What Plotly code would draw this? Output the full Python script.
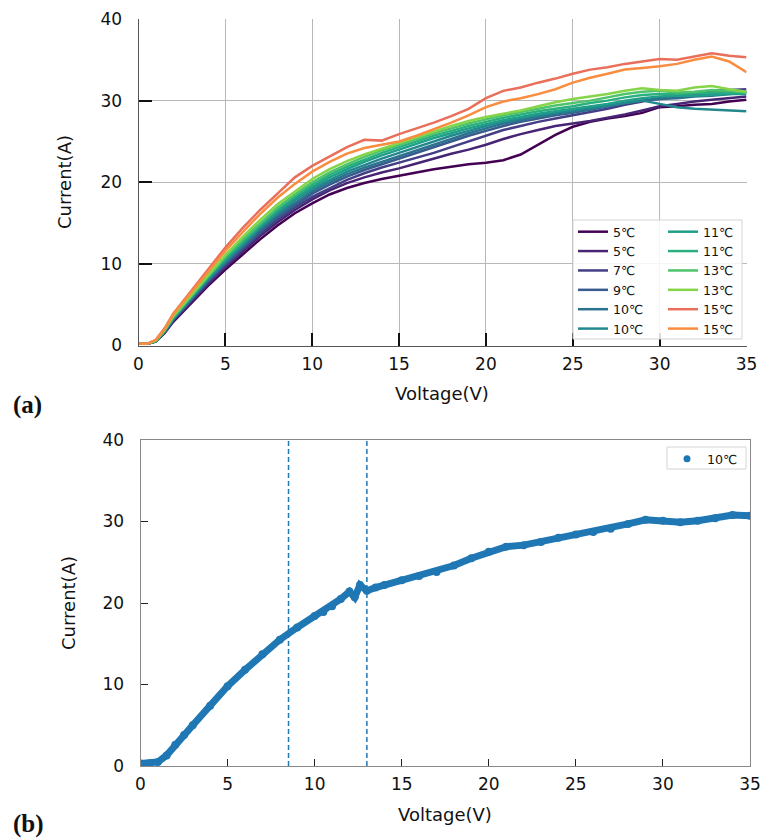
import plotly.graph_objects as go

W, H = 760, 839

# ---------------- data: panel (a) ----------------
voltage_a = [0, 0.5, 1, 1.5, 2, 3, 4, 5, 6, 7, 8, 9, 10, 11, 12, 13, 14, 15, 16, 17, 18,
             19, 20, 21, 22, 23, 24, 25, 26, 27, 28, 29, 30, 31, 32, 33, 34, 35]

labels_a = ["5℃", "5℃", "7℃", "9℃", "10℃", "10℃",
            "11℃", "11℃", "13℃", "13℃", "15℃", "15℃"]

colors_a = ["#440154", "#482475", "#433e85", "#375b8d", "#2c718e", "#23888e",
            "#1f9e89", "#2ab07f", "#4ec36b", "#86d549", "#ea6f5a", "#f98c3f"]

current_5a = [0.2, 0.2, 0.5, 1.5, 2.9, 5.1, 7.3, 9.3, 11.2, 13.0, 14.7, 16.2, 17.4, 18.5, 19.3, 19.9,
              20.4, 20.8, 21.2, 21.6, 21.9, 22.2, 22.4, 22.7, 23.4, 24.6, 25.8, 26.8, 27.4, 27.8,
              28.1, 28.5, 29.2, 29.3, 29.5, 29.6, 29.9, 30.1]
current_5b = [0.2, 0.2, 0.5, 1.6, 3.0, 5.3, 7.5, 9.6, 11.5, 13.4, 15.1, 16.6, 17.9, 19.0, 19.9, 20.6,
              21.2, 21.7, 22.3, 22.9, 23.5, 24.0, 24.6, 25.3, 25.9, 26.4, 26.9, 27.2, 27.5, 27.9,
              28.3, 28.8, 29.3, 29.6, 29.9, 30.1, 30.3, 30.5]
current_7 = [0.2, 0.2, 0.5, 1.6, 3.1, 5.4, 7.7, 9.8, 11.8, 13.7, 15.4, 16.9, 18.2, 19.3, 20.3, 21.1,
             21.8, 22.4, 23.0, 23.6, 24.3, 25.0, 25.7, 26.4, 26.9, 27.4, 27.8, 28.2, 28.6, 29.0,
             29.5, 29.9, 30.4, 30.7, 31.0, 31.2, 31.3, 31.4]
current_9 = [0.2, 0.2, 0.5, 1.7, 3.2, 5.5, 7.9, 10.0, 12.0, 13.9, 15.7, 17.2, 18.6, 19.7, 20.7, 21.5,
             22.2, 22.9, 23.6, 24.3, 25.0, 25.7, 26.3, 26.9, 27.4, 27.8, 28.2, 28.5, 28.9, 29.3,
             29.7, 30.0, 30.2, 30.5, 30.8, 30.9, 31.0, 31.1]
current_10a = [0.2, 0.2, 0.5, 1.7, 3.2, 5.6, 8.0, 10.2, 12.2, 14.2, 16.0, 17.5, 18.9, 20.0, 21.0, 21.8,
               22.5, 23.2, 23.9, 24.6, 25.3, 26.0, 26.6, 27.2, 27.6, 28.0, 28.3, 28.6, 28.9, 29.3,
               29.7, 30.0, 30.2, 30.3, 30.5, 30.6, 30.8, 31.0]
current_10b = [0.2, 0.2, 0.5, 1.7, 3.3, 5.7, 8.1, 10.3, 12.4, 14.4, 16.2, 17.8, 19.2, 20.3, 21.3, 22.1,
               22.9, 23.6, 24.3, 25.0, 25.7, 26.3, 26.9, 27.4, 27.8, 28.2, 28.5, 28.8, 29.1, 29.4,
               29.7, 30.0, 29.6, 29.2, 29.0, 28.9, 28.8, 28.7]
current_11a = [0.2, 0.2, 0.5, 1.8, 3.4, 5.8, 8.3, 10.5, 12.6, 14.6, 16.4, 18.0, 19.4, 20.6, 21.6, 22.5,
               23.3, 24.0, 24.7, 25.4, 26.0, 26.6, 27.1, 27.6, 28.0, 28.4, 28.7, 29.0, 29.3, 29.6,
               30.0, 30.3, 30.5, 30.6, 30.6, 30.7, 30.8, 30.8]
current_11b = [0.2, 0.2, 0.6, 1.8, 3.4, 5.9, 8.4, 10.7, 12.8, 14.8, 16.7, 18.3, 19.7, 20.9, 21.9, 22.8,
               23.6, 24.3, 25.0, 25.7, 26.3, 26.9, 27.4, 27.9, 28.3, 28.7, 29.0, 29.3, 29.7, 30.0,
               30.4, 30.7, 30.8, 30.8, 30.9, 31.0, 31.0, 31.0]
current_13a = [0.2, 0.2, 0.6, 1.9, 3.5, 6.0, 8.5, 10.9, 13.0, 15.0, 16.9, 18.5, 20.0, 21.2, 22.2, 23.1,
               23.9, 24.6, 25.3, 26.0, 26.6, 27.2, 27.7, 28.2, 28.6, 29.0, 29.4, 29.7, 30.0, 30.4,
               30.8, 31.1, 31.2, 31.0, 31.1, 31.3, 31.2, 31.0]
current_13b = [0.2, 0.2, 0.6, 1.9, 3.6, 6.1, 8.7, 11.1, 13.3, 15.4, 17.3, 18.9, 20.4, 21.6, 22.6, 23.4,
               24.1, 24.8, 25.5, 26.2, 26.9, 27.5, 28.0, 28.4, 28.8, 29.3, 29.8, 30.2, 30.5, 30.8,
               31.2, 31.5, 31.3, 31.2, 31.6, 31.8, 31.4, 31.1]
current_15a = [0.2, 0.2, 0.7, 2.1, 3.9, 6.6, 9.4, 12.0, 14.4, 16.6, 18.6, 20.6, 22.0, 23.2, 24.3, 25.2,
               25.1, 25.9, 26.6, 27.3, 28.1, 29.0, 30.3, 31.2, 31.6, 32.2, 32.7, 33.3, 33.8, 34.1,
               34.5, 34.8, 35.1, 35.0, 35.4, 35.8, 35.5, 35.3]
current_15b = [0.2, 0.2, 0.7, 2.0, 3.8, 6.4, 9.1, 11.6, 13.9, 16.1, 18.1, 19.8, 21.3, 22.5, 23.5, 24.2,
               24.6, 25.0, 25.7, 26.5, 27.3, 28.2, 29.2, 29.9, 30.3, 30.8, 31.4, 32.2, 32.8, 33.3,
               33.8, 34.0, 34.2, 34.5, 35.0, 35.4, 34.8, 33.5]

series_a = [current_5a, current_5b, current_7, current_9, current_10a, current_10b,
            current_11a, current_11b, current_13a, current_13b, current_15a, current_15b]

# ---------------- data: panel (b) ----------------
voltage_b = [0, 0.5, 1, 1.5, 2, 2.5, 3, 4, 5, 6, 7, 8, 9, 10, 10.5, 11, 11.5, 12, 12.3, 12.6,
             13, 13.5, 14, 15, 16, 17, 18, 19, 20, 21, 22, 23, 24, 25, 26, 27, 28, 29, 30,
             31, 32, 33, 34, 35]
current_b = [0.3, 0.3, 0.5, 1.3, 2.6, 3.8, 5.0, 7.4, 9.8, 11.8, 13.7, 15.5, 17.0, 18.4, 18.9, 19.6,
             20.5, 21.4, 20.7, 22.2, 21.5, 21.9, 22.2, 22.8, 23.3, 23.8, 24.6, 25.5, 26.3, 26.9,
             27.1, 27.5, 28.0, 28.4, 28.7, 29.1, 29.7, 30.2, 30.1, 29.9, 30.1, 30.4, 30.8, 30.7]
label_b = "10℃"
split_voltages = [8.5, 13]

x_ticks = [0, 5, 10, 15, 20, 25, 30, 35]
y_ticks = [0, 10, 20, 30, 40]

# ---------------- figure ----------------
FONT = "DejaVu Sans"
fig = go.Figure()

for i, (lab, col, vals) in enumerate(zip(labels_a, colors_a, series_a)):
    fig.add_trace(go.Scatter(
        x=voltage_a, y=vals, mode="lines", name=lab,
        line=dict(color=col, width=2.5),
        xaxis="x", yaxis="y",
        legend="legend" if i < 6 else "legend2",
    ))

BLUE = "#1f77b4"
fig.add_trace(go.Scatter(
    x=voltage_b, y=current_b, mode="lines+markers",
    line=dict(color=BLUE, width=7), marker=dict(color=BLUE, size=8),
    xaxis="x2", yaxis="y2", showlegend=False,
))
fig.add_trace(go.Scatter(
    x=[None], y=[None], mode="markers", name=label_b,
    marker=dict(color=BLUE, size=7), xaxis="x2", yaxis="y2", legend="legend3",
))

def px_x(p):
    return p / W

def px_y(p):
    return (H - p) / H

tickfont = dict(family=FONT, size=17, color="#111")
legfont = dict(family=FONT, size=12.6, color="#111")

fig.update_layout(
    width=W, height=H,
    margin=dict(l=0, r=0, t=0, b=0),
    paper_bgcolor="white", plot_bgcolor="white",
    showlegend=True,
    xaxis=dict(domain=[px_x(138.5), px_x(746.5)], range=[0, 35], anchor="y",
               tickvals=x_ticks, ticks="inside", ticklen=13, tickwidth=2, tickcolor="#111",
               showgrid=True, gridcolor="#b8b8b8", gridwidth=1.3,
               showline=True, linecolor="#555", linewidth=1, zeroline=False,
               tickfont=tickfont, automargin=False, ticklabelstandoff=3,
               ticklabeloverflow="allow"),
    yaxis=dict(domain=[px_y(345.5), px_y(19)], range=[0, 40], anchor="x",
               tickvals=y_ticks, ticks="inside", ticklen=13, tickwidth=2, tickcolor="#111",
               showgrid=True, gridcolor="#b8b8b8", gridwidth=1.3,
               showline=True, linecolor="#555", linewidth=1, zeroline=False,
               tickfont=tickfont, automargin=False, ticklabelstandoff=12,
               ticklabeloverflow="allow"),
    xaxis2=dict(domain=[px_x(140.5), px_x(750)], range=[0, 35], anchor="y2",
                tickvals=x_ticks, ticks="inside", ticklen=7, tickwidth=1.3, tickcolor="#222",
                showgrid=False, showline=True, mirror=True, linecolor="#888", linewidth=1,
                zeroline=False, tickfont=tickfont, automargin=False, ticklabelstandoff=3,
                ticklabeloverflow="allow"),
    yaxis2=dict(domain=[px_y(766), px_y(440)], range=[0, 40], anchor="x2",
                tickvals=y_ticks, ticks="inside", ticklen=7, tickwidth=1.3, tickcolor="#222",
                showgrid=False, showline=True, mirror=True, linecolor="#888", linewidth=1,
                zeroline=False, tickfont=tickfont, automargin=False, ticklabelstandoff=12,
                ticklabeloverflow="allow"),
    legend=dict(x=px_x(573), y=px_y(217), xanchor="left", yanchor="top",
                bgcolor="rgba(0,0,0,0)", borderwidth=0, font=legfont),
    legend2=dict(x=px_x(663), y=px_y(217), xanchor="left", yanchor="top",
                 bgcolor="rgba(0,0,0,0)", borderwidth=0, font=legfont),
    legend3=dict(x=px_x(667), y=px_y(444), xanchor="left", yanchor="top",
                 bgcolor="rgba(0,0,0,0)", borderwidth=0, font=legfont),
)

shapes = [
    dict(type="rect", xref="paper", yref="paper",
         x0=px_x(573), x1=px_x(742), y0=px_y(339), y1=px_y(220),
         fillcolor="rgba(255,255,255,0.85)", line=dict(color="#d4d4d4", width=1),
         layer="above"),
    dict(type="rect", xref="paper", yref="paper",
         x0=px_x(667), x1=px_x(746), y0=px_y(469), y1=px_y(447),
         fillcolor="white", line=dict(color="#d4d4d4", width=1), layer="above"),
]
for v in split_voltages:
    shapes.append(dict(type="line", xref="x2", yref="y2 domain", x0=v, x1=v, y0=0, y1=1,
                       line=dict(color=BLUE, width=1.5, dash="5px,3px")))
fig.update_layout(shapes=shapes)

title_font = dict(family=FONT, size=18, color="#111")
annotations = [
    dict(text="Current(A)", x=px_x(64), y=px_y(182), textangle=-90),
    dict(text="Voltage(V)", x=px_x(442), y=px_y(393)),
    dict(text="Current(A)", x=px_x(68), y=px_y(603), textangle=-90),
    dict(text="Voltage(V)", x=px_x(445), y=px_y(814)),
]
for a in annotations:
    a.update(xref="paper", yref="paper", showarrow=False, font=title_font,
             xanchor="center", yanchor="middle")
annotations += [
    dict(text="<b>(a)</b>", x=px_x(11), y=px_y(405), xref="paper", yref="paper",
         showarrow=False, xanchor="left", yanchor="middle",
         font=dict(family="Liberation Serif", size=25, color="#111")),
    dict(text="<b>(b)</b>", x=px_x(11), y=px_y(824), xref="paper", yref="paper",
         showarrow=False, xanchor="left", yanchor="middle",
         font=dict(family="Liberation Serif", size=25, color="#111")),
]
fig.update_layout(annotations=annotations)

fig.write_html("out.html", config={"displayModeBar": False},
               post_script="document.body.style.margin='0';document.body.style.overflow='hidden';")
